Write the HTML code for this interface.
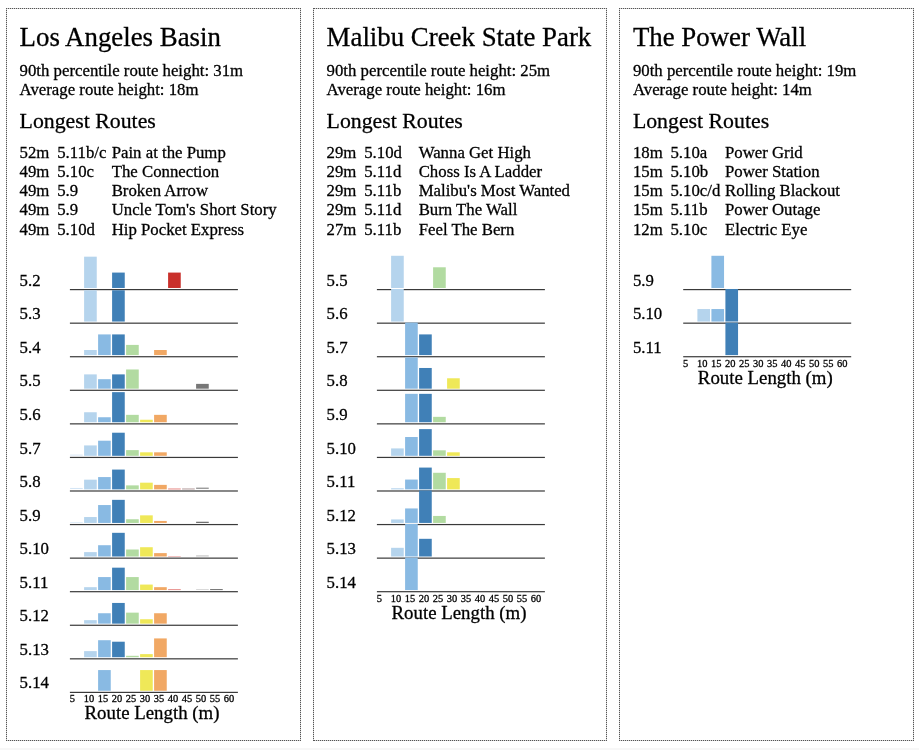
<!DOCTYPE html>
<html lang="en"><head><meta charset="utf-8"><title>Climbing route heights</title>
<style>
html,body{margin:0;padding:0;background:#fff}
body{width:919px;height:750px;position:relative;overflow:hidden;font-family:"Liberation Serif","Times New Roman",Times,serif;font-size:16.78px;color:#000;-webkit-text-stroke:0.28px #000}
.crag{position:absolute;box-sizing:border-box;height:732.8px;border:1px solid #d2d2d2}
.crag::before{content:"";position:absolute;left:-1px;top:-1px;right:-1px;bottom:-1px;border:1px dotted #555}
.crag>*{position:absolute;margin:0;white-space:nowrap}
.crag::before{white-space:normal}
.title{font-size:26.85px;font-weight:normal;line-height:1}
.sub{font-size:21.8px;font-weight:normal;line-height:1}
.stats{line-height:19.5px}
.routes{border-collapse:collapse;border-spacing:0;line-height:19.22px}
.routes td{padding:0}
.chart{overflow:visible}
.chart text{font-family:"Liberation Serif","Times New Roman",Times,serif;fill:#000;stroke:#000;stroke-width:0.28px;-webkit-text-stroke:0}
.glab{font-size:16.78px}
.tick{font-size:10.45px}
.xlab{font-size:18.85px;text-anchor:middle}
.strip{position:absolute;left:0;top:748px;width:919px;height:2px;background:#f7f7f7}
</style></head>
<body>
<section class="crag" style="left:6px;top:8.4px;width:295px">
<h2 class="title" style="left:12.6px;top:14.51px">Los Angeles Basin</h2>
<p class="stats" style="left:12.6px;top:51.19px">90th percentile route height: 31m<br>Average route height: 18m</p>
<h3 class="sub" style="left:12.6px;top:101.34px">Longest Routes</h3>
<table class="routes" style="left:12.6px;top:133.43px"><colgroup><col style="width:37.6px"><col style="width:54.5px"><col></colgroup>
<tr><td>52m</td><td>5.11b/c</td><td>Pain at the Pump</td></tr>
<tr><td>49m</td><td>5.10c</td><td>The Connection</td></tr>
<tr><td>49m</td><td>5.9</td><td>Broken Arrow</td></tr>
<tr><td>49m</td><td>5.9</td><td>Uncle Tom's Short Story</td></tr>
<tr><td>49m</td><td>5.10d</td><td>Hip Pocket Express</td></tr>
</table>
<svg class="chart" style="left:-1px;top:240.6px" width="295.3" height="482.4" viewBox="6 250 295.3 482.4">
<rect x="84.1" y="256.68" width="12.65" height="31.3" fill="#b5d4ed"/>
<rect x="112.1" y="272.58" width="12.65" height="15.4" fill="#4080b7"/>
<rect x="168.1" y="272.58" width="12.65" height="15.4" fill="#c9302b"/>
<rect x="69.9" y="289" width="168" height="1.2" fill="#3a3a3a"/>
<text class="glab" x="19.6" y="285.7">5.2</text>
<rect x="84.1" y="290.25" width="12.65" height="31.3" fill="#b5d4ed"/>
<rect x="112.1" y="290.25" width="12.65" height="31.3" fill="#4080b7"/>
<rect x="69.9" y="322.57" width="168" height="1.2" fill="#3a3a3a"/>
<text class="glab" x="19.6" y="319.27">5.3</text>
<rect x="84.1" y="350.01" width="12.65" height="5.1" fill="#b5d4ed"/>
<rect x="98.1" y="334.41" width="12.65" height="20.7" fill="#89bae3"/>
<rect x="112.1" y="334.41" width="12.65" height="20.7" fill="#4080b7"/>
<rect x="126.1" y="344.91" width="12.65" height="10.2" fill="#b2dba1"/>
<rect x="154.1" y="350.01" width="12.65" height="5.1" fill="#f1a864"/>
<rect x="69.9" y="356.13" width="168" height="1.2" fill="#3a3a3a"/>
<text class="glab" x="19.6" y="352.83">5.4</text>
<rect x="84.1" y="374.38" width="12.65" height="14.3" fill="#b5d4ed"/>
<rect x="98.1" y="379.18" width="12.65" height="9.5" fill="#89bae3"/>
<rect x="112.1" y="374.38" width="12.65" height="14.3" fill="#4080b7"/>
<rect x="126.1" y="369.48" width="12.65" height="19.2" fill="#b2dba1"/>
<rect x="196.1" y="383.88" width="12.65" height="4.8" fill="#777777"/>
<rect x="69.9" y="389.7" width="168" height="1.2" fill="#3a3a3a"/>
<text class="glab" x="19.6" y="386.4">5.5</text>
<rect x="84.1" y="412.25" width="12.65" height="10" fill="#b5d4ed"/>
<rect x="98.1" y="417.25" width="12.65" height="5" fill="#89bae3"/>
<rect x="112.1" y="392.15" width="12.65" height="30.1" fill="#4080b7"/>
<rect x="126.1" y="414.85" width="12.65" height="7.4" fill="#b2dba1"/>
<rect x="140.1" y="419.75" width="12.65" height="2.5" fill="#efe858"/>
<rect x="154.1" y="414.85" width="12.65" height="7.4" fill="#f1a864"/>
<rect x="69.9" y="423.27" width="168" height="1.2" fill="#3a3a3a"/>
<text class="glab" x="19.6" y="419.97">5.6</text>
<rect x="70.1" y="454.42" width="12.65" height="1.4" fill="#e3eef9"/>
<rect x="84.1" y="445.42" width="12.65" height="10.4" fill="#b5d4ed"/>
<rect x="98.1" y="440.72" width="12.65" height="15.1" fill="#89bae3"/>
<rect x="112.1" y="432.72" width="12.65" height="23.1" fill="#4080b7"/>
<rect x="126.1" y="450.12" width="12.65" height="5.7" fill="#b2dba1"/>
<rect x="140.1" y="452.32" width="12.65" height="3.5" fill="#efe858"/>
<rect x="154.1" y="452.32" width="12.65" height="3.5" fill="#f1a864"/>
<rect x="69.9" y="456.84" width="168" height="1.2" fill="#3a3a3a"/>
<text class="glab" x="19.6" y="453.54">5.7</text>
<rect x="70.1" y="487.98" width="12.65" height="0.6" fill="#b4d2ee"/>
<rect x="84.1" y="479.68" width="12.65" height="9.7" fill="#b5d4ed"/>
<rect x="98.1" y="477.08" width="12.65" height="12.3" fill="#89bae3"/>
<rect x="112.1" y="469.58" width="12.65" height="19.8" fill="#4080b7"/>
<rect x="126.1" y="485.38" width="12.65" height="4" fill="#b2dba1"/>
<rect x="140.1" y="482.68" width="12.65" height="6.7" fill="#efe858"/>
<rect x="154.1" y="484.88" width="12.65" height="4.5" fill="#f1a864"/>
<rect x="168.1" y="488.58" width="12.65" height="0.8" fill="#e06a66"/>
<rect x="182.1" y="488.58" width="12.65" height="0.8" fill="#a08080"/>
<rect x="196.1" y="487.78" width="12.65" height="0.75" fill="#444"/>
<rect x="69.9" y="490.4" width="168" height="1.2" fill="#3a3a3a"/>
<text class="glab" x="19.6" y="487.1">5.8</text>
<rect x="70.1" y="522.25" width="12.65" height="0.4" fill="#b4d2ee"/>
<rect x="84.1" y="517.05" width="12.65" height="5.9" fill="#b5d4ed"/>
<rect x="98.1" y="505.05" width="12.65" height="17.9" fill="#89bae3"/>
<rect x="112.1" y="499.85" width="12.65" height="23.1" fill="#4080b7"/>
<rect x="126.1" y="519.25" width="12.65" height="3.7" fill="#b2dba1"/>
<rect x="140.1" y="515.35" width="12.65" height="7.6" fill="#efe858"/>
<rect x="154.1" y="520.95" width="12.65" height="2" fill="#f1a864"/>
<rect x="196.1" y="521.75" width="12.65" height="1.2" fill="#6a6a6a"/>
<rect x="69.9" y="523.97" width="168" height="1.2" fill="#3a3a3a"/>
<text class="glab" x="19.6" y="520.67">5.9</text>
<rect x="84.1" y="552.12" width="12.65" height="4.4" fill="#b5d4ed"/>
<rect x="98.1" y="545.22" width="12.65" height="11.3" fill="#89bae3"/>
<rect x="112.1" y="532.82" width="12.65" height="23.7" fill="#4080b7"/>
<rect x="126.1" y="549.52" width="12.65" height="7" fill="#b2dba1"/>
<rect x="140.1" y="547.22" width="12.65" height="9.3" fill="#efe858"/>
<rect x="154.1" y="553.12" width="12.65" height="3.4" fill="#f1a864"/>
<rect x="168.1" y="556.12" width="12.65" height="0.4" fill="#e06a66"/>
<rect x="196.1" y="555.32" width="12.65" height="1.2" fill="#c8c8c8"/>
<rect x="69.9" y="557.54" width="168" height="1.2" fill="#3a3a3a"/>
<text class="glab" x="19.6" y="554.24">5.10</text>
<rect x="84.1" y="587.18" width="12.65" height="2.9" fill="#b5d4ed"/>
<rect x="98.1" y="577.08" width="12.65" height="13" fill="#89bae3"/>
<rect x="112.1" y="567.68" width="12.65" height="22.4" fill="#4080b7"/>
<rect x="126.1" y="577.08" width="12.65" height="13" fill="#b2dba1"/>
<rect x="140.1" y="584.58" width="12.65" height="5.5" fill="#efe858"/>
<rect x="154.1" y="587.18" width="12.65" height="2.9" fill="#f1a864"/>
<rect x="168.1" y="589.33" width="12.65" height="0.75" fill="#e06a66"/>
<rect x="196.1" y="589.03" width="12.65" height="0.55" fill="#bbb"/>
<rect x="210.1" y="589.23" width="12.65" height="0.85" fill="#555"/>
<rect x="69.9" y="591.1" width="168" height="1.2" fill="#3a3a3a"/>
<text class="glab" x="19.6" y="587.8">5.11</text>
<rect x="84.1" y="620.15" width="12.65" height="3.5" fill="#b5d4ed"/>
<rect x="98.1" y="613.25" width="12.65" height="10.4" fill="#89bae3"/>
<rect x="112.1" y="602.95" width="12.65" height="20.7" fill="#4080b7"/>
<rect x="126.1" y="612.65" width="12.65" height="11" fill="#b2dba1"/>
<rect x="140.1" y="619.25" width="12.65" height="4.4" fill="#efe858"/>
<rect x="154.1" y="613.25" width="12.65" height="10.4" fill="#f1a864"/>
<rect x="69.9" y="624.67" width="168" height="1.2" fill="#3a3a3a"/>
<text class="glab" x="19.6" y="621.37">5.12</text>
<rect x="84.1" y="651.12" width="12.65" height="6.1" fill="#b5d4ed"/>
<rect x="98.1" y="640.22" width="12.65" height="17" fill="#89bae3"/>
<rect x="112.1" y="641.72" width="12.65" height="15.5" fill="#4080b7"/>
<rect x="126.1" y="655.82" width="12.65" height="1.4" fill="#b2dba1"/>
<rect x="140.1" y="654.12" width="12.65" height="3.1" fill="#efe858"/>
<rect x="154.1" y="638.42" width="12.65" height="18.8" fill="#f1a864"/>
<rect x="69.9" y="658.24" width="168" height="1.2" fill="#3a3a3a"/>
<text class="glab" x="19.6" y="654.94">5.13</text>
<rect x="98.1" y="670.08" width="12.65" height="20.7" fill="#89bae3"/>
<rect x="140.1" y="670.08" width="12.65" height="20.7" fill="#efe858"/>
<rect x="154.1" y="670.08" width="12.65" height="20.7" fill="#f1a864"/>
<rect x="69.9" y="691.8" width="168" height="1.2" fill="#3a3a3a"/>
<text class="glab" x="19.6" y="688.5">5.14</text>
<text class="tick" x="69.8" y="702.4">5</text>
<text class="tick" x="83.8" y="702.4">10</text>
<text class="tick" x="97.8" y="702.4">15</text>
<text class="tick" x="111.8" y="702.4">20</text>
<text class="tick" x="125.8" y="702.4">25</text>
<text class="tick" x="139.8" y="702.4">30</text>
<text class="tick" x="153.8" y="702.4">35</text>
<text class="tick" x="167.8" y="702.4">40</text>
<text class="tick" x="181.8" y="702.4">45</text>
<text class="tick" x="195.8" y="702.4">50</text>
<text class="tick" x="209.8" y="702.4">55</text>
<text class="tick" x="223.8" y="702.4">60</text>
<text class="xlab" x="152" y="719.3">Route Length (m)</text>
</svg>
</section>
<section class="crag" style="left:313px;top:8.4px;width:294px">
<h2 class="title" style="left:12.6px;top:14.51px">Malibu Creek State Park</h2>
<p class="stats" style="left:12.6px;top:51.19px">90th percentile route height: 25m<br>Average route height: 16m</p>
<h3 class="sub" style="left:12.6px;top:101.34px">Longest Routes</h3>
<table class="routes" style="left:12.6px;top:133.43px"><colgroup><col style="width:37.6px"><col style="width:54.5px"><col></colgroup>
<tr><td>29m</td><td>5.10d</td><td>Wanna Get High</td></tr>
<tr><td>29m</td><td>5.11d</td><td>Choss Is A Ladder</td></tr>
<tr><td>29m</td><td>5.11b</td><td>Malibu's Most Wanted</td></tr>
<tr><td>29m</td><td>5.11d</td><td>Burn The Wall</td></tr>
<tr><td>27m</td><td>5.11b</td><td>Feel The Bern</td></tr>
</table>
<svg class="chart" style="left:-1px;top:240.6px" width="295.3" height="381.7" viewBox="313 250 295.3 381.7">
<rect x="391.1" y="255.78" width="12.65" height="32.2" fill="#b5d4ed"/>
<rect x="433.1" y="267.28" width="12.65" height="20.7" fill="#b2dba1"/>
<rect x="376.9" y="289" width="168" height="1.2" fill="#3a3a3a"/>
<text class="glab" x="326.6" y="285.7">5.5</text>
<rect x="391.1" y="289" width="12.65" height="32.55" fill="#b5d4ed"/>
<rect x="376.9" y="322.57" width="168" height="1.2" fill="#3a3a3a"/>
<text class="glab" x="326.6" y="319.27">5.6</text>
<rect x="405.1" y="322.57" width="12.65" height="32.55" fill="#89bae3"/>
<rect x="419.1" y="334.41" width="12.65" height="20.7" fill="#4080b7"/>
<rect x="376.9" y="356.13" width="168" height="1.2" fill="#3a3a3a"/>
<text class="glab" x="326.6" y="352.83">5.7</text>
<rect x="405.1" y="357.38" width="12.65" height="31.3" fill="#89bae3"/>
<rect x="419.1" y="367.98" width="12.65" height="20.7" fill="#4080b7"/>
<rect x="447.1" y="378.28" width="12.65" height="10.4" fill="#efe858"/>
<rect x="376.9" y="389.7" width="168" height="1.2" fill="#3a3a3a"/>
<text class="glab" x="326.6" y="386.4">5.8</text>
<rect x="405.1" y="393.85" width="12.65" height="28.4" fill="#89bae3"/>
<rect x="419.1" y="393.85" width="12.65" height="28.4" fill="#4080b7"/>
<rect x="433.1" y="416.85" width="12.65" height="5.4" fill="#b2dba1"/>
<rect x="376.9" y="423.27" width="168" height="1.2" fill="#3a3a3a"/>
<text class="glab" x="326.6" y="419.97">5.9</text>
<rect x="391.1" y="448.42" width="12.65" height="7.4" fill="#b5d4ed"/>
<rect x="405.1" y="437.02" width="12.65" height="18.8" fill="#89bae3"/>
<rect x="419.1" y="429.12" width="12.65" height="26.7" fill="#4080b7"/>
<rect x="433.1" y="450.32" width="12.65" height="5.5" fill="#b2dba1"/>
<rect x="447.1" y="452.32" width="12.65" height="3.5" fill="#efe858"/>
<rect x="376.9" y="456.84" width="168" height="1.2" fill="#3a3a3a"/>
<text class="glab" x="326.6" y="453.54">5.10</text>
<rect x="391.1" y="488.28" width="12.65" height="1.1" fill="#b5d4ed"/>
<rect x="405.1" y="479.58" width="12.65" height="9.8" fill="#89bae3"/>
<rect x="419.1" y="467.58" width="12.65" height="21.8" fill="#4080b7"/>
<rect x="433.1" y="472.78" width="12.65" height="16.6" fill="#b2dba1"/>
<rect x="447.1" y="478.08" width="12.65" height="11.3" fill="#efe858"/>
<rect x="376.9" y="490.4" width="168" height="1.2" fill="#3a3a3a"/>
<text class="glab" x="326.6" y="487.1">5.11</text>
<rect x="391.1" y="519.45" width="12.65" height="3.5" fill="#b5d4ed"/>
<rect x="405.1" y="508.45" width="12.65" height="14.5" fill="#89bae3"/>
<rect x="419.1" y="490.4" width="12.65" height="32.55" fill="#4080b7"/>
<rect x="433.1" y="515.95" width="12.65" height="7" fill="#b2dba1"/>
<rect x="376.9" y="523.97" width="168" height="1.2" fill="#3a3a3a"/>
<text class="glab" x="326.6" y="520.67">5.12</text>
<rect x="391.1" y="547.82" width="12.65" height="8.7" fill="#b5d4ed"/>
<rect x="405.1" y="523.97" width="12.65" height="32.55" fill="#89bae3"/>
<rect x="419.1" y="538.82" width="12.65" height="17.7" fill="#4080b7"/>
<rect x="376.9" y="557.54" width="168" height="1.2" fill="#3a3a3a"/>
<text class="glab" x="326.6" y="554.24">5.13</text>
<rect x="405.1" y="557.54" width="12.65" height="32.55" fill="#89bae3"/>
<rect x="376.9" y="591.1" width="168" height="1.2" fill="#3a3a3a"/>
<text class="glab" x="326.6" y="587.8">5.14</text>
<text class="tick" x="376.8" y="601.7">5</text>
<text class="tick" x="390.8" y="601.7">10</text>
<text class="tick" x="404.8" y="601.7">15</text>
<text class="tick" x="418.8" y="601.7">20</text>
<text class="tick" x="432.8" y="601.7">25</text>
<text class="tick" x="446.8" y="601.7">30</text>
<text class="tick" x="460.8" y="601.7">35</text>
<text class="tick" x="474.8" y="601.7">40</text>
<text class="tick" x="488.8" y="601.7">45</text>
<text class="tick" x="502.8" y="601.7">50</text>
<text class="tick" x="516.8" y="601.7">55</text>
<text class="tick" x="530.8" y="601.7">60</text>
<text class="xlab" x="459" y="618.6">Route Length (m)</text>
</svg>
</section>
<section class="crag" style="left:619px;top:8.4px;width:295px">
<h2 class="title" style="left:12.9px;top:14.51px">The Power Wall</h2>
<p class="stats" style="left:12.9px;top:51.19px">90th percentile route height: 19m<br>Average route height: 14m</p>
<h3 class="sub" style="left:12.9px;top:101.34px">Longest Routes</h3>
<table class="routes" style="left:12.9px;top:133.43px"><colgroup><col style="width:37.6px"><col style="width:54.5px"><col></colgroup>
<tr><td>18m</td><td>5.10a</td><td>Power Grid</td></tr>
<tr><td>15m</td><td>5.10b</td><td>Power Station</td></tr>
<tr><td>15m</td><td>5.10c/d</td><td>Rolling Blackout</td></tr>
<tr><td>15m</td><td>5.11b</td><td>Power Outage</td></tr>
<tr><td>12m</td><td>5.10c</td><td>Electric Eye</td></tr>
</table>
<svg class="chart" style="left:-1px;top:240.6px" width="295.3" height="146.73" viewBox="619 250 295.3 146.73">
<rect x="711.4" y="255.78" width="12.65" height="32.2" fill="#89bae3"/>
<rect x="683.2" y="289" width="168" height="1.2" fill="#3a3a3a"/>
<text class="glab" x="632.9" y="285.7">5.9</text>
<rect x="697.4" y="309.05" width="12.65" height="12.5" fill="#b5d4ed"/>
<rect x="711.4" y="309.05" width="12.65" height="12.5" fill="#89bae3"/>
<rect x="725.4" y="289" width="12.65" height="32.55" fill="#4080b7"/>
<rect x="683.2" y="322.57" width="168" height="1.2" fill="#3a3a3a"/>
<text class="glab" x="632.9" y="319.27">5.10</text>
<rect x="725.4" y="322.57" width="12.65" height="32.55" fill="#4080b7"/>
<rect x="683.2" y="356.13" width="168" height="1.2" fill="#3a3a3a"/>
<text class="glab" x="632.9" y="352.83">5.11</text>
<text class="tick" x="683.1" y="366.73">5</text>
<text class="tick" x="697.1" y="366.73">10</text>
<text class="tick" x="711.1" y="366.73">15</text>
<text class="tick" x="725.1" y="366.73">20</text>
<text class="tick" x="739.1" y="366.73">25</text>
<text class="tick" x="753.1" y="366.73">30</text>
<text class="tick" x="767.1" y="366.73">35</text>
<text class="tick" x="781.1" y="366.73">40</text>
<text class="tick" x="795.1" y="366.73">45</text>
<text class="tick" x="809.1" y="366.73">50</text>
<text class="tick" x="823.1" y="366.73">55</text>
<text class="tick" x="837.1" y="366.73">60</text>
<text class="xlab" x="765.3" y="383.63">Route Length (m)</text>
</svg>
</section>
<div class="strip"></div>
</body></html>
